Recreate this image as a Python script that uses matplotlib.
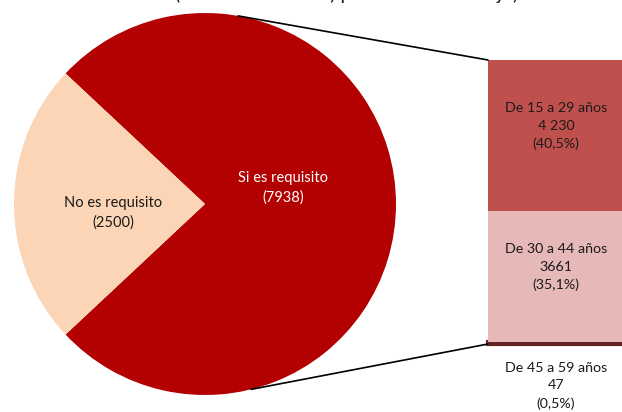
import numpy as np
import matplotlib
matplotlib.use('Agg')
import matplotlib.pyplot as plt
from matplotlib.patches import ConnectionPatch

plt.rcParams['font.family'] = ['Lato', 'DejaVu Sans']

# Data
pie_labels = ['Si es requisito', 'No es requisito']
pie_values = [7938, 2500]
pie_colors = ['#B30000', '#FBD5B5']

age_groups = ['De 45 a 59 años', 'De 30 a 44 años', 'De 15 a 29 años']
age_values = [47, 3661, 4230]
age_values_txt = ['47', '3661', '4 230']
age_pct = ['(0,5%)', '(35,1%)', '(40,5%)']
bar_colors = ['#632523', '#E6B9B8', '#C0504D']

W, H = 622, 412
fig = plt.figure(figsize=(W / 100, H / 100), dpi=100)

# clipped title at the very top (as in the source image)
fig.text(347 / W, 1.0, '(número de avisos) por edad del trabajo)', ha='center', va='baseline',
         fontsize=14, color='#222222')

# pie
ax_pie = fig.add_axes([14 / W, (H - 395) / H, 382 / W, 382 / H])
total = sum(pie_values)
start = -360 * pie_values[0] / total / 2
ax_pie.pie(pie_values, colors=pie_colors, startangle=start, counterclock=True,
           wedgeprops=dict(linewidth=0))
ax_pie.set_xlim(-1, 1)
ax_pie.set_ylim(-1, 1)
ax_pie.set_aspect('auto')
ax_pie.axis('off')

ax_pie.text(0.41, 0.085, f'{pie_labels[0]}\n({pie_values[0]})', ha='center', va='center',
            color='white', fontsize=10.5, linespacing=1.5)
ax_pie.text(-0.48, -0.045, f'{pie_labels[1]}\n({pie_values[1]})', ha='center', va='center',
            color='#1a1a1a', fontsize=10.5, linespacing=1.5)

# bar of pie
ax_bar = fig.add_axes([488 / W, (H - 344) / H, 136 / W, 284 / H])
bottom = 0
for val, col, grp, txt, pct in zip(age_values, bar_colors, age_groups, age_values_txt, age_pct):
    small = val < 100
    bars = ax_bar.bar(0, val, bottom=bottom, width=1.0, color=col,
                      edgecolor=col, linewidth=3 if small else 0)
    if small:
        bars[0].set_clip_on(False)
    label = f'{grp}\n{txt}\n{pct}'
    if small:
        ax_bar.annotate(label, (0, bottom), xytext=(0, -30), textcoords='offset points',
                        ha='center', va='center', fontsize=10.3, linespacing=1.55, color='#1a1a1a',
                        annotation_clip=False)
    else:
        ax_bar.annotate(label, (0, bottom + val / 2), xytext=(0, 7), textcoords='offset points',
                        ha='center', va='center', fontsize=10.3, linespacing=1.55, color='#1a1a1a')
    bottom += val
ax_bar.set_xlim(-0.5, 0.5)
ax_bar.set_ylim(0, bottom)
ax_bar.axis('off')

# connector lines
for ang, yb in [(80, bottom), (-76, 0)]:
    a = np.deg2rad(ang)
    con = ConnectionPatch(xyA=(np.cos(a), np.sin(a)), coordsA=ax_pie.transData,
                          xyB=(-0.5, yb), coordsB=ax_bar.transData,
                          color='black', linewidth=1.2)
    fig.add_artist(con)

fig.savefig('out.png', dpi=100)
